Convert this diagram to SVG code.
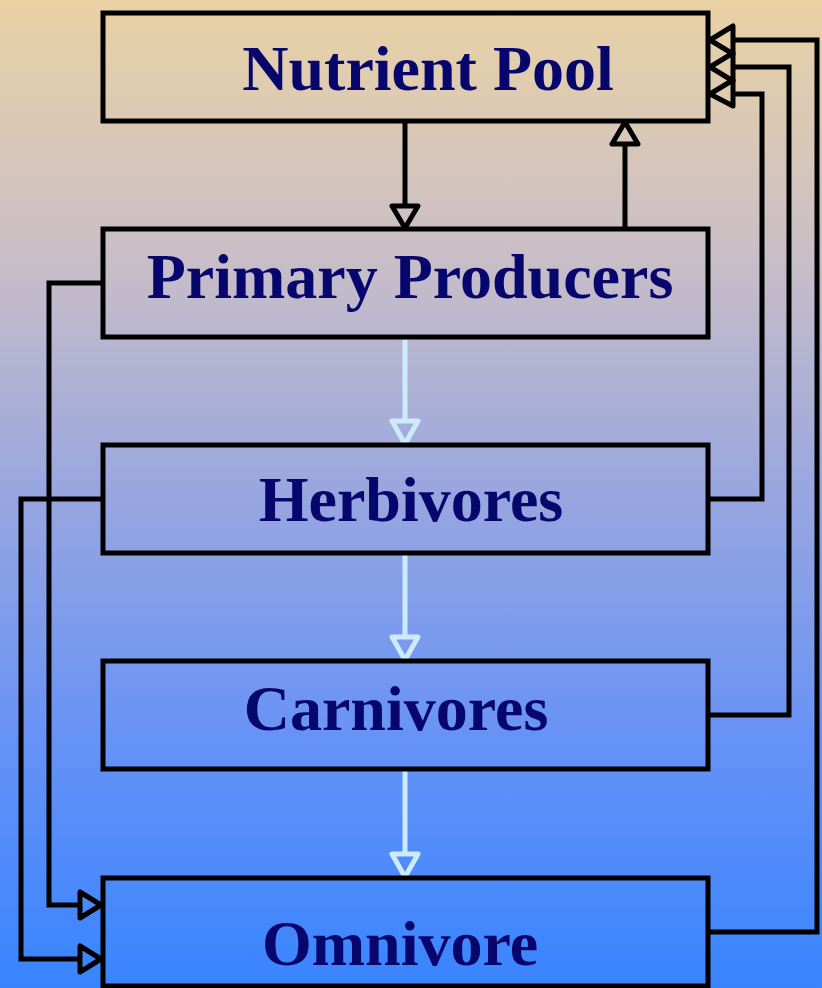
<svg xmlns="http://www.w3.org/2000/svg" width="822" height="988" viewBox="0 0 822 988">
<defs>
<linearGradient id="bg" x1="0" y1="0" x2="0" y2="1">
<stop offset="0" stop-color="#EAD2A4"/>
<stop offset="0.25" stop-color="#CBBFC6"/>
<stop offset="0.5" stop-color="#98A6E0"/>
<stop offset="0.75" stop-color="#6692F6"/>
<stop offset="1" stop-color="#3884FF"/>
</linearGradient>
</defs>
<style>
.box{fill:none;stroke:#000;stroke-width:5}
.lbl{font-family:"Liberation Serif","Times New Roman",serif;font-weight:bold;font-size:64px;fill:#06066C;text-anchor:middle}
.ln{fill:none;stroke:#000;stroke-width:5;stroke-linejoin:miter}
.hd{fill:none;stroke:#000;stroke-width:5;stroke-linejoin:round}
.lt{fill:none;stroke:#CDEBFF;stroke-width:5}
.lth{fill:none;stroke:#CDEBFF;stroke-width:5;stroke-linejoin:round}
</style>
<rect x="0" y="0" width="822" height="988" fill="url(#bg)"/>
<g id="connectors">
<path class="ln" d="M405,121 V206"/>
<path class="hd" d="M392,206 L418,206 L405,228 Z"/>
<path class="ln" d="M625,229 V144"/>
<path class="hd" d="M612,144 L638,144 L625,122 Z"/>
<path class="lt" d="M405,337 V421"/>
<path class="lth" d="M392,421 L418,421 L405,444 Z"/>
<path class="lt" d="M405,553 V637"/>
<path class="lth" d="M392,637 L418,637 L405,660 Z"/>
<path class="lt" d="M405,769 V854"/>
<path class="lth" d="M392,854 L418,854 L405,877 Z"/>
<path class="ln" d="M708,932 H817 V40 H733"/>
<path class="hd" d="M733,26 L733,54 L710,40 Z"/>
<path class="ln" d="M708,715 H789 V67 H733"/>
<path class="hd" d="M733,53 L733,81 L710,67 Z"/>
<path class="ln" d="M708,499 H762 V94 H733"/>
<path class="hd" d="M733,80 L733,106 L710,94 Z"/>
<path class="ln" d="M103,283 H49 V905 H80"/>
<path class="hd" d="M80,892 L80,918 L101,905 Z"/>
<path class="ln" d="M103,499 H21 V959 H80"/>
<path class="hd" d="M80,946 L80,972 L101,959 Z"/>
</g>
<g id="nutrient-pool"><rect class="box" x="103" y="13" width="605" height="108"/><text class="lbl" x="428" y="90">Nutrient Pool</text></g>
<g id="primary-producers"><rect class="box" x="103" y="229" width="605" height="108"/><text class="lbl" x="410" y="298">Primary Producers</text></g>
<g id="herbivores"><rect class="box" x="103" y="445" width="605" height="108"/><text class="lbl" x="411" y="521">Herbivores</text></g>
<g id="carnivores"><rect class="box" x="103" y="661" width="605" height="108"/><text class="lbl" x="396" y="730">Carnivores</text></g>
<g id="omnivore"><rect class="box" x="103" y="878" width="605" height="108"/><text class="lbl" x="400" y="965">Omnivore</text></g>
</svg>
